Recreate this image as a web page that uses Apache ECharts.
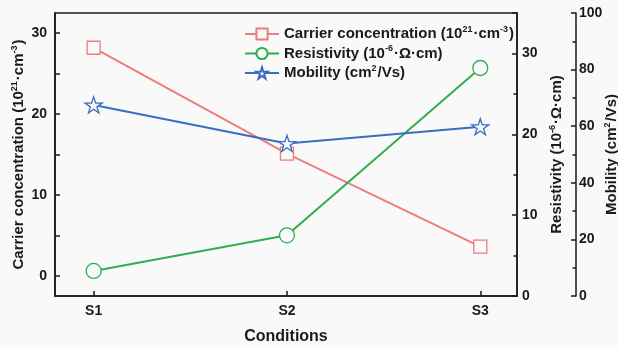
<!DOCTYPE html>
<html>
<head>
<meta charset="utf-8">
<script src="https://cdn.jsdelivr.net/npm/echarts@6/dist/echarts.min.js"></script>
<style>
html,body{margin:0;padding:0;background:#f9f9f9;}
#c{width:618px;height:348px;}
</style>
</head>
<body>
<div id="c"></div>
<script>
// ---- data ----
var categories = ['S1', 'S2', 'S3'];
var carrierConc = [28.2, 15.1, 3.6];      // 10^21 cm^-3 (left axis)
var resistivity = [3.1, 7.5, 28.2];       // 10^-6 Ohm cm (right axis)
var mobility = [67.5, 53.9, 59.8];        // cm^2/Vs (far right axis)
var leftTicks = [0, 10, 20, 30];
var leftMinorTicks = [0, 5, 10, 15, 20, 25, 30];
var xTicks = [1, 2, 3];

var FONT = '"Liberation Sans", Arial, sans-serif';
var INK = '#1a1a1a';
var RED = '#F07C7C', GREEN = '#2FAE4E', BLUE = '#3A6DC2';
var BG = '#f9f9f9';
var STAR = 'path://M100,0 L122.45,69.1 L195.1,69.1 L136.3,111.8 L158.8,180.9 L100,138.2 L41.2,180.9 L63.7,111.8 L4.9,69.1 L77.55,69.1 Z';

function pts(arr) { return arr.map(function (v, i) { return [i + 1, v]; }); }

var rich = {
  n: {fontFamily: FONT, fontWeight: 'bold', fontSize: 15, color: INK, lineHeight: 18},
  sup: {fontFamily: FONT, fontWeight: 'bold', fontSize: 9, color: INK, verticalAlign: 'top', lineHeight: 18, padding: [0, 1, 0, 0]}
};
var names = {
  carrier: '{n|Carrier concentration (10}{sup|21}{n|·cm}{sup|-3}{n|)}',
  res: '{n|Resistivity (10}{sup|-6}{n|·Ω·cm)}',
  mob: '{n|Mobility (cm}{sup|2}{n|/Vs)}'
};
var legendNames = ['Carrier concentration', 'Resistivity', 'Mobility'];
var legendMap = {'Carrier concentration': names.carrier, 'Resistivity': names.res, 'Mobility': names.mob};

var axisLineStyle = {color: INK, width: 1.5};
var labelStyle = {fontFamily: FONT, fontWeight: 'bold', fontSize: 14, color: INK};

var chart = echarts.init(document.getElementById('c'), null, {renderer: 'canvas'});
chart.setOption({
  backgroundColor: BG,
  animation: false,
  grid: {left: 55, right: 101, top: 13, bottom: 52, outerBoundsMode: 'none', containLabel: false,
         show: true, borderColor: INK, borderWidth: 1.5, backgroundColor: 'transparent'},
  legend: {
    orient: 'vertical', left: 239, top: 20, itemWidth: 34, itemHeight: 14, itemGap: 3,
    data: legendNames,
    formatter: function (n) { return legendMap[n]; },
    textStyle: {rich: rich}
  },
  xAxis: {
    type: 'value', min: 0.8, max: 3.19,
    name: 'Conditions', nameLocation: 'middle', nameGap: 33, nameMoveOverlap: false,
    nameTextStyle: {fontFamily: FONT, fontWeight: 'bold', fontSize: 16, color: INK},
    axisLine: {show: true, onZero: false, lineStyle: axisLineStyle},
    axisTick: {show: true, inside: true, length: 5, customValues: xTicks, lineStyle: axisLineStyle},
    axisLabel: Object.assign({customValues: xTicks, margin: 8, formatter: function (v) { return categories[Math.round(v) - 1]; }}, labelStyle),
    splitLine: {show: false}
  },
  yAxis: [
    {
      type: 'value', position: 'left', min: -2.5, max: 32.5,
      name: names.carrier, nameLocation: 'middle', nameRotate: 90, nameGap: 27, nameMoveOverlap: false,
      nameTextStyle: {rich: rich},
      axisLine: {show: true, onZero: false, lineStyle: axisLineStyle},
      axisTick: {show: true, inside: true, length: 5, customValues: leftMinorTicks, lineStyle: axisLineStyle},
      axisLabel: Object.assign({customValues: leftTicks, margin: 8}, labelStyle),
      splitLine: {show: false}
    },
    {
      type: 'value', position: 'right', min: 0, max: 35, interval: 10,
      name: names.res, nameLocation: 'middle', nameRotate: 90, nameGap: 31, nameMoveOverlap: false,
      nameTextStyle: {rich: rich},
      axisLine: {show: true, onZero: false, lineStyle: axisLineStyle},
      axisTick: {show: true, inside: true, length: 5, lineStyle: axisLineStyle},
      minorTick: {show: true, splitNumber: 2, length: 3.5, lineStyle: {color: INK, width: 1.5}},
      axisLabel: Object.assign({margin: 5, showMaxLabel: false}, labelStyle),
      splitLine: {show: false}, minorSplitLine: {show: false}
    },
    {
      type: 'value', position: 'right', offset: 59, min: 0, max: 100, interval: 20,
      name: names.mob, nameLocation: 'middle', nameRotate: 90, nameGap: 27, nameMoveOverlap: false,
      nameTextStyle: {rich: rich},
      axisLine: {show: true, onZero: false, lineStyle: axisLineStyle},
      axisTick: {show: true, inside: true, length: 5, lineStyle: axisLineStyle},
      minorTick: {show: true, splitNumber: 2, length: 3.5, lineStyle: {color: INK, width: 1.5}},
      axisLabel: Object.assign({margin: 3}, labelStyle),
      splitLine: {show: false}, minorSplitLine: {show: false}
    }
  ],
  series: [
    {
      name: 'Carrier concentration', type: 'line', yAxisIndex: 0, data: pts(carrierConc),
      symbol: 'rect', symbolSize: 13, showAllSymbol: true,
      lineStyle: {color: RED, width: 2}, itemStyle: {color: BG, borderColor: RED, borderWidth: 1.3}, z: 3
    },
    {
      name: 'Resistivity', type: 'line', yAxisIndex: 1, data: pts(resistivity),
      symbol: 'circle', symbolSize: 15,
      lineStyle: {color: GREEN, width: 2}, itemStyle: {color: BG, borderColor: GREEN, borderWidth: 1.3}, z: 3
    },
    {
      name: 'Mobility', type: 'line', yAxisIndex: 2, data: pts(mobility),
      symbol: STAR, symbolSize: 17, symbolKeepAspect: true,
      lineStyle: {color: BLUE, width: 2}, itemStyle: {color: BG, borderColor: BLUE, borderWidth: 1.3}, z: 4
    }
  ]
});
</script>
</body>
</html>
